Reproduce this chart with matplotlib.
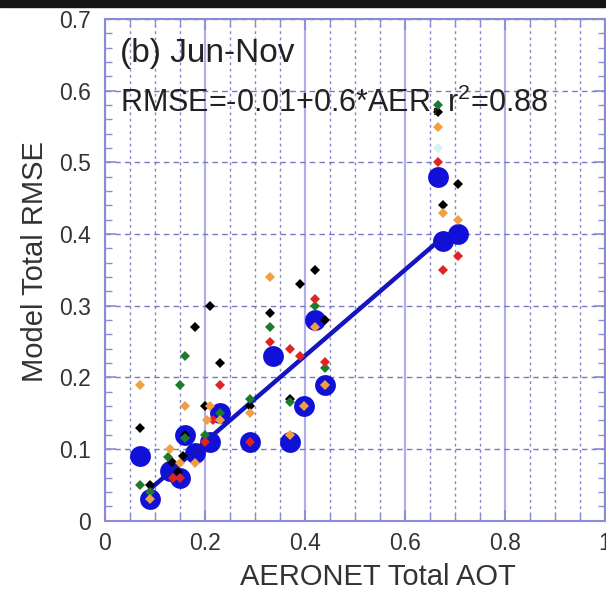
import matplotlib
matplotlib.use("Agg")
import matplotlib.pyplot as plt
from matplotlib.ticker import MultipleLocator, FormatStrFormatter
from matplotlib.patches import Rectangle

plt.rcParams['font.family'] = ['Liberation Sans', 'DejaVu Sans']
plt.rcParams['mathtext.fontset'] = 'custom'
plt.rcParams['mathtext.rm'] = 'Liberation Sans'

# Overall (blue circles)
blue_x = [0.07, 0.09, 0.13, 0.15, 0.16, 0.18, 0.21, 0.23, 0.29, 0.335, 0.37, 0.397, 0.42, 0.44, 0.665, 0.675, 0.705]
blue_y = [0.09, 0.03, 0.07, 0.06, 0.12, 0.095, 0.11, 0.15, 0.11, 0.23, 0.11, 0.16, 0.28, 0.19, 0.48, 0.39, 0.40]

black_x = [0.07, 0.09, 0.133, 0.146, 0.156, 0.16, 0.20, 0.23, 0.18, 0.21, 0.29, 0.33, 0.39, 0.42, 0.44, 0.37, 0.665, 0.705, 0.675]
black_y = [0.13, 0.05, 0.082, 0.068, 0.09, 0.12, 0.16, 0.22, 0.27, 0.30, 0.16, 0.29, 0.33, 0.35, 0.28, 0.17, 0.57, 0.47, 0.44]

green_x = [0.07, 0.09, 0.126, 0.16, 0.15, 0.20, 0.23, 0.29, 0.33, 0.42, 0.44, 0.37, 0.665, 0.16]
green_y = [0.05, 0.04, 0.089, 0.23, 0.19, 0.12, 0.15, 0.17, 0.27, 0.30, 0.213, 0.165, 0.58, 0.115]

red_x = [0.135, 0.15, 0.20, 0.216, 0.23, 0.29, 0.33, 0.37, 0.39, 0.42, 0.44, 0.665, 0.705, 0.675]
red_y = [0.06, 0.06, 0.11, 0.14, 0.19, 0.11, 0.25, 0.24, 0.23, 0.31, 0.222, 0.50, 0.37, 0.35]

orange_x = [0.07, 0.09, 0.13, 0.15, 0.18, 0.16, 0.203, 0.21, 0.23, 0.29, 0.33, 0.37, 0.397, 0.42, 0.44, 0.665, 0.675, 0.705]
orange_y = [0.19, 0.03, 0.10, 0.08, 0.08, 0.16, 0.14, 0.16, 0.14, 0.15, 0.34, 0.12, 0.16, 0.27, 0.19, 0.55, 0.43, 0.42]

cyan_x = [0.665]
cyan_y = [0.52]

# Regression: RMSE = -0.01 + 0.6*AER
fit_intercept = -0.01
fit_slope = 0.6
fit_x = [0.09, 0.675]
fit_y = [fit_intercept + fit_slope * v for v in fit_x]

x_ticks = [0, 0.2, 0.4, 0.6, 0.8, 1.0]
y_ticks = [0, 0.1, 0.2, 0.3, 0.4, 0.5, 0.6, 0.7]

W, H = 606, 593
fig = plt.figure(figsize=(W / 100, H / 100), dpi=100)
ax = fig.add_axes([105 / W, (H - 520.7) / H, 500 / W, 501.7 / H])
ax.set_xlim(0, 1.0)
ax.set_ylim(0, 0.7)

spine_c = '#8a8ad6'
for s in ax.spines.values():
    s.set_color(spine_c)
    s.set_linewidth(1.5)

ax.set_xticks(x_ticks)
ax.set_yticks(y_ticks)
ax.xaxis.set_minor_locator(MultipleLocator(0.05))
ax.yaxis.set_minor_locator(MultipleLocator(0.02))
ax.xaxis.set_major_formatter(FormatStrFormatter('%g'))
ax.yaxis.set_major_formatter(FormatStrFormatter('%g'))
ax.tick_params(which='both', direction='in', top=True, right=True, color=spine_c)
ax.tick_params(which='major', length=8, width=1.2, labelsize=16.5, labelcolor='#333333')
ax.tick_params(which='minor', length=5, width=1.0)
ax.tick_params(axis='x', which='major', pad=8)
ax.tick_params(axis='y', which='major', pad=10)

ax.grid(which='major', axis='x', linestyle='-', color='#aeaee8', linewidth=1.6)
ax.grid(which='minor', axis='x', linestyle=(0, (2, 2.5)), color='#8484cc', linewidth=1.0)
ax.grid(which='major', axis='y', linestyle=(0, (4, 3)), color='#7878c4', linewidth=1.0)
ax.set_axisbelow(True)

ax.plot(fit_x, fit_y, color='#1414c0', linewidth=3.2, zorder=3, solid_capstyle='round')
ax.plot(blue_x, blue_y, 'o', color='#1010d8', markersize=15, markeredgewidth=0, zorder=2)

ms = 5
ax.plot(cyan_x, cyan_y, 'D', color='#d4f0f6', markersize=ms, markeredgewidth=0, zorder=4)
ax.plot(black_x, black_y, 'D', color='#000000', markersize=ms, markeredgewidth=0, zorder=4)
ax.plot(green_x, green_y, 'D', color='#1e7a2e', markersize=ms, markeredgewidth=0, zorder=4)
ax.plot(red_x, red_y, 'D', color='#e02424', markersize=ms, markeredgewidth=0, zorder=4)
ax.plot(orange_x, orange_y, 'D', color='#f0a040', markersize=ms, markeredgewidth=0, zorder=4)

ax.text(0.03, 0.914, '(b) Jun-Nov', transform=ax.transAxes, fontsize=24,
        va='baseline', ha='left', color='#222222', zorder=5)
ax.text(0.03, 0.815, r'RMSE=-0.01+0.6*AER, r$^\mathregular{2}$=0.88', transform=ax.transAxes,
        fontsize=22, va='baseline', ha='left', color='#222222', zorder=5)

fig.text(378 / W, 1 - 585 / H, 'AERONET Total AOT', fontsize=21, ha='center',
         va='baseline', color='#333333')
fig.text(35 / W, 1 - 262 / H, 'Model Total RMSE', fontsize=21, ha='center',
         va='center', rotation=90, color='#333333')

fig.patches.append(Rectangle((0, 1 - 7 / H), 1, 7 / H, transform=fig.transFigure,
                             color='#151515', zorder=10))

fig.savefig('out.png', dpi=100)
